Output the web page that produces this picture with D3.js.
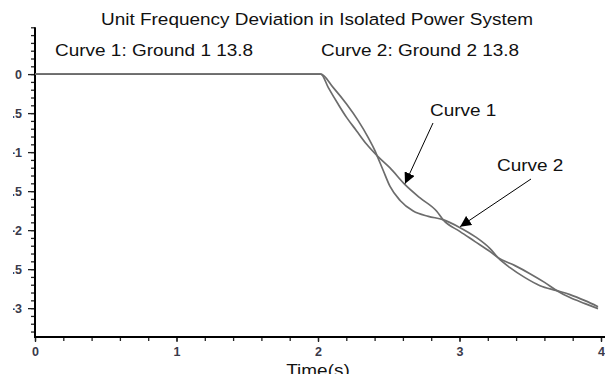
<!DOCTYPE html>
<html>
<head>
<meta charset="utf-8">
<script src="https://cdn.jsdelivr.net/npm/d3@7"></script>
<style>
  html, body { margin: 0; padding: 0; background: #fff; }
  svg { display: block; font-family: "Liberation Sans", Arial, sans-serif; }
</style>
</head>
<body>
<svg id="chart" width="605" height="374"></svg>
<script>
// Time axis (s)
const curve1Time = [0, 1, 2.02, 2.073, 2.143, 2.203, 2.273, 2.344, 2.417, 2.509, 2.615, 2.721, 2.839, 2.883,
                    3.004, 3.110, 3.216, 3.272, 3.392, 3.498, 3.604, 3.689, 3.781, 3.887, 3.979];
const curve1Value = [0, 0, 0, -0.173, -0.387, -0.558, -0.728, -0.900, -1.045, -1.203, -1.417, -1.587, -1.759, -1.865,
                     -2.019, -2.147, -2.276, -2.353, -2.455, -2.558, -2.673, -2.776, -2.865, -2.942, -3.006];
const curve2Time = [0, 1, 2.02, 2.108, 2.203, 2.285, 2.355, 2.403, 2.417, 2.461, 2.509, 2.580, 2.673, 2.780, 2.883,
                    3.004, 3.110, 3.216, 3.272, 3.357, 3.463, 3.569, 3.689, 3.781, 3.887, 3.979];
const curve2Value = [0, 0, 0, -0.173, -0.387, -0.600, -0.814, -0.985, -1.045, -1.236, -1.440, -1.620, -1.755, -1.823, -1.865,
                     -1.968, -2.083, -2.237, -2.353, -2.481, -2.609, -2.712, -2.776, -2.827, -2.904, -2.981];

const xMajorTicks = [0, 1, 2, 3, 4];
const xTickLabels = ["0", "1", "2", "3", "4"];
const yMajorTicks = [0, -0.5, -1, -1.5, -2, -2.5, -3];
const yTickLabels = ["0", "-0.5", "-1", "-1.5", "-2", "-2.5", "-3"];

const titleText = "Unit Frequency Deviation in Isolated Power System";
const legendTexts = ["Curve 1: Ground 1 13.8", "Curve 2: Ground 2 13.8"];
const calloutNames = ["Curve 1", "Curve 2"];
const xAxisTitle = "Time(s)";

const W = 605, H = 374;
const STRETCH = 1.15;   // the lettering is set slightly wide
const svg = d3.select("#chart");

const x = d3.scaleLinear().domain([0, 4]).range([35, 601]);
const y = d3.scaleLinear().domain([-3.37, 0.6]).range([337, 27.3]);

const xMinor = d3.range(0, 4.001, 0.2).map(v => +v.toFixed(1));
const yMinor = d3.range(-3.3, 0.601, 0.1).map(v => +v.toFixed(1));

const defs = svg.append("defs");
defs.append("clipPath").attr("id", "ylabclip")
  .append("rect").attr("x", 13).attr("y", 0).attr("width", W).attr("height", H);
defs.append("marker").attr("id", "arrow")
  .attr("viewBox", "0 0 10 10").attr("refX", 10).attr("refY", 5)
  .attr("markerWidth", 11).attr("markerHeight", 11).attr("markerUnits", "userSpaceOnUse")
  .attr("orient", "auto")
  .append("path").attr("d", "M0,0 L10,5 L0,10 Z").attr("fill", "#000");

// Wide text helper: anchor position, then horizontal stretch
function wideText(tx, ty, str, anchor) {
  return svg.append("text")
    .attr("transform", `translate(${tx},${ty}) scale(${STRETCH},1)`)
    .attr("text-anchor", anchor || "start")
    .attr("font-size", 16.5).attr("fill", "#111").text(str);
}

// Title and legend line
wideText(317, 25, titleText, "middle");
wideText(55, 56, legendTexts[0]);
wideText(321, 56, legendTexts[1]);

// Y axis: minor then major ticks
const yMinorAxis = d3.axisLeft(y).tickValues(yMinor).tickSize(4).tickFormat("");
const yMajorAxis = d3.axisLeft(y).tickValues(yMajorTicks).tickSize(7)
  .tickFormat((d, i) => yTickLabels[i]).tickPadding(6);

const gyMinor = svg.append("g").attr("transform", `translate(${x(0)},0)`).call(yMinorAxis);
const gyMajor = svg.append("g").attr("clip-path", "url(#ylabclip)")
  .append("g").attr("transform", `translate(${x(0)},0)`).call(yMajorAxis);
[gyMinor, gyMajor].forEach(g => {
  g.select(".domain").remove();
  g.selectAll("line").attr("stroke", "#222").attr("stroke-width", 1.3);
});
gyMajor.selectAll("text").attr("font-size", 12.5).attr("font-weight", "bold")
  .attr("fill", "#3a3a4a").attr("font-family", "Liberation Sans, Arial, sans-serif");

// X axis: minor and major ticks pointing down
const xMinorAxis = d3.axisBottom(x).tickValues(xMinor).tickSize(4).tickFormat("");
const xMajorAxis = d3.axisBottom(x).tickValues(xMajorTicks).tickSize(5)
  .tickFormat((d, i) => xTickLabels[i]).tickPadding(5);
const gxMinor = svg.append("g").attr("transform", `translate(0,${y.range()[0]})`).call(xMinorAxis);
const gxMajor = svg.append("g").attr("transform", `translate(0,${y.range()[0]})`).call(xMajorAxis);
[gxMinor, gxMajor].forEach(g => {
  g.select(".domain").remove();
  g.selectAll("line").attr("stroke", "#222").attr("stroke-width", 1.3);
});
gxMajor.selectAll("text").attr("font-size", 12.5).attr("font-weight", "bold")
  .attr("fill", "#3a3a4a").attr("font-family", "Liberation Sans, Arial, sans-serif");

// Axis lines
svg.append("line").attr("x1", x(0)).attr("x2", x(0)).attr("y1", y.range()[1]).attr("y2", y.range()[0] + 1)
  .attr("stroke", "#000").attr("stroke-width", 2);
svg.append("line").attr("x1", x(0) - 1).attr("x2", W).attr("y1", y.range()[0]).attr("y2", y.range()[0])
  .attr("stroke", "#000").attr("stroke-width", 2);

wideText(x(2), 376, xAxisTitle, "middle");

// Curves
const line = d3.line().x(d => x(d[0])).y(d => y(d[1])).curve(d3.curveMonotoneX);
const series = [
  d3.zip(curve1Time, curve1Value),
  d3.zip(curve2Time, curve2Value)
];
svg.append("g").selectAll("path").data(series).join("path")
  .attr("d", line).attr("fill", "none")
  .attr("stroke", "#6c6c6c").attr("stroke-width", 1.7);

// Callouts with arrows pointing at each curve
const callouts = [
  { name: calloutNames[0], t: 2.615, v: -1.417, tx: 430, ty: 116, sx: 433, sy: 123 },
  { name: calloutNames[1], t: 3.004, v: -1.968, tx: 497, ty: 171, sx: 531, sy: 179 }
];
callouts.forEach(c => {
  wideText(c.tx, c.ty, c.name);
  svg.append("line").attr("x1", c.sx).attr("y1", c.sy).attr("x2", x(c.t)).attr("y2", y(c.v) - 1)
    .attr("stroke", "#000").attr("stroke-width", 1).attr("marker-end", "url(#arrow)");
});
</script>
</body>
</html>
